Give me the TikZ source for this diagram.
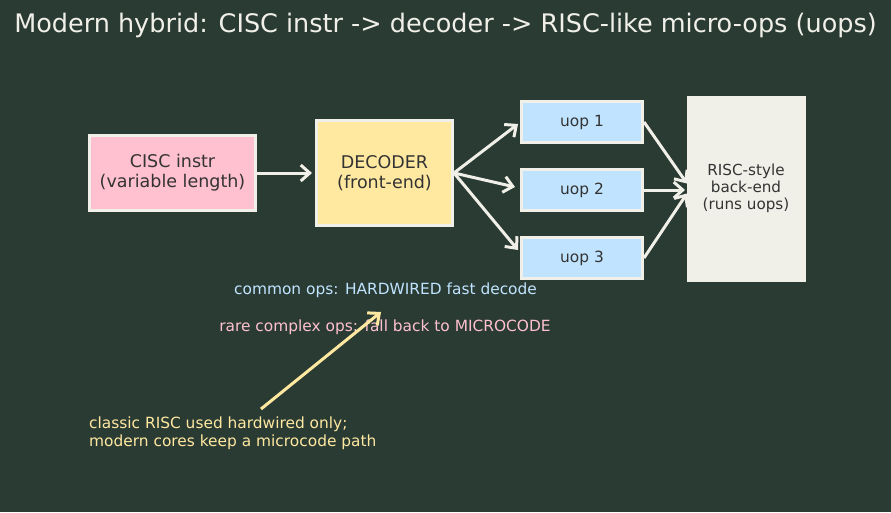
\documentclass[tikz,border=0pt]{standalone}
\usepackage{fontspec}
\setmainfont{DejaVu Sans}
\usepackage{xcolor}
\usetikzlibrary{positioning, arrows.meta}
\definecolor{bgdark}{HTML}{2A3B34}
\definecolor{edgewhite}{HTML}{F0F0E8}
\definecolor{boxpink}{HTML}{FFC0D0}
\definecolor{boxyellow}{HTML}{FFE8A0}
\definecolor{boxblue}{HTML}{C0E4FF}
\definecolor{inkdark}{HTML}{333333}

\begin{document}
\begin{tikzpicture}[
  x=1pt, y=-1pt,
  box/.style={draw=edgewhite, line width=3pt, align=center, inner sep=0pt, font=\fontsize{17.5}{20}\selectfont, text=inkdark},
  uop/.style={box, fill=boxblue, minimum width=121pt, minimum height=41pt, font=\fontsize{15.4}{17}\selectfont},
  note/.style={align=left, inner sep=0pt, font=\fontsize{15.4}{18}\selectfont},
  link/.style={draw=edgewhite, line width=3pt, -{Straight Barb[length=9pt, width=16pt, line width=3pt]}},
]
\fill[bgdark] (0,0) rectangle (891,512);
\node[text=edgewhite, font=\fontsize{25.5}{28}\selectfont] (title) at (445.5,25) {Modern hybrid: CISC instr -> decoder -> RISC-like micro-ops (uops)};

\node[box, fill=boxpink, minimum width=166pt, minimum height=75pt] (cisc) at (172.5,173) {CISC instr\\(variable length)};
\node[box, fill=boxyellow, minimum width=136pt, minimum height=105pt] (dec) at (384.5,173) {DECODER\\(front-end)};
\node[uop] (u1) at (582,122) {uop 1};
\node[uop] (u2) at (582,190) {uop 2};
\node[uop] (u3) at (582,258) {uop 3};
\node[box, draw=edgewhite, fill=edgewhite, line width=0pt, minimum width=118pt, minimum height=185pt, font=\fontsize{15.2}{17}\selectfont] (back) at (746,188.5) {RISC-style\\back-end\\(runs uops)};

\draw[link] (cisc.east) -- ([xshift=-3pt]dec.west);
\draw[link] (dec.east) -- ([xshift=-2pt,yshift=-2pt]u1.west);
\draw[link] (dec.east) -- ([xshift=-5pt,yshift=3pt]u2.west);
\draw[link] (dec.east) -- ([xshift=-2pt,yshift=8pt]u3.west);
\draw[link] (u1.east) -- ([yshift=5pt]back.west);
\draw[link] (u2.east) -- ([xshift=-2pt]u2.east -| back.west);
\draw[link] (u3.east) -- ([yshift=-5pt]back.west);

\node[note, text=boxblue] (hw) at (385.5,290) {common ops: HARDWIRED fast decode};
\node[note, text=boxpink] (mc) at (385,327) {rare complex ops: fall back to MICROCODE};
\node[note, text=boxyellow, anchor=north west] (risc) at (89,417) {classic RISC used hardwired only;\\modern cores keep a microcode path};
\coordinate (tailpt) at (261,409);
\coordinate (tippt) at (381,312);
\draw[link, draw=boxyellow] (tailpt) -- (tippt);
\end{tikzpicture}
\end{document}
